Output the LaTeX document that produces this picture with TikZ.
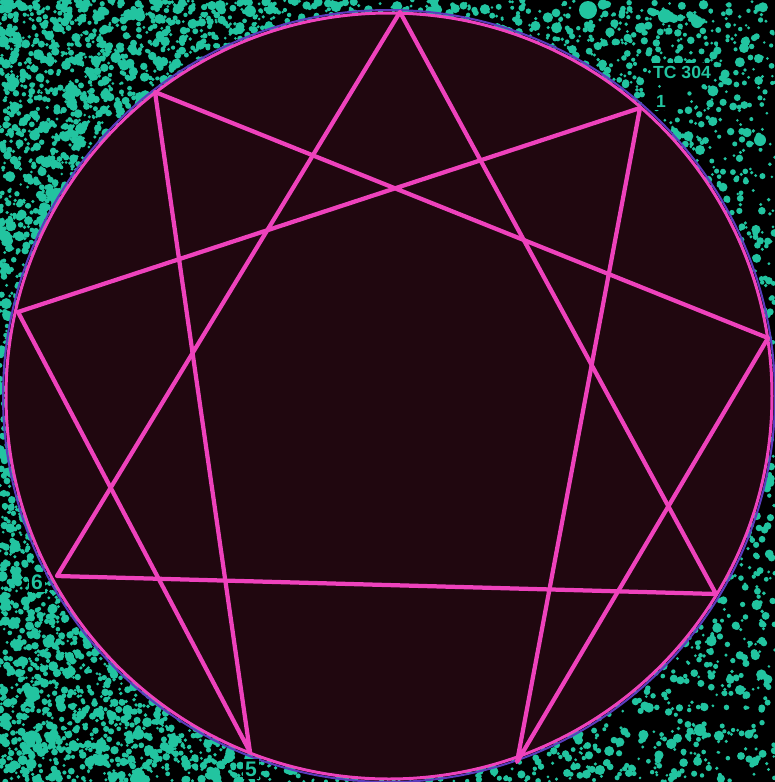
\documentclass[tikz,border=0pt]{standalone}
\usepackage{fontspec}
\setsansfont{Liberation Sans}
\definecolor{speckteal}{RGB}{34,196,160}
\definecolor{rayPink}{RGB}{238,66,188}
\definecolor{discDark}{RGB}{32,7,15}
\definecolor{rimBlue}{RGB}{90,60,190}

\begin{document}
\begin{tikzpicture}[x=0.02cm, y=-0.02cm,
    speck/.style={fill=speckteal},
    ray/.style={draw=rayPink, line width=0.085cm, line join=round},
    numlab/.style={text=speckteal, fill=black, font=\sffamily\bfseries, inner sep=1.5pt}]
  \useasboundingbox (0,0) rectangle (775,782);
  \fill[black] (0,0) rectangle (775,782);
  % speckled background, only outside the disc
  \begin{scope}
    \clip (0,0) rectangle (775,782);
    \pgfmathsetseed{304}
    \foreach \k in {1,...,6500}{
      \pgfmathsetmacro{\sx}{775*rnd}
      \pgfmathsetmacro{\sy}{782*rnd}
      \pgfmathsetmacro{\sd}{veclen(\sx-389,\sy-396)}
      \ifdim\sd pt>376pt
        \pgfmathsetmacro{\sr}{1.4+4.2*rnd*rnd}
        \fill[speck] (\sx,\sy) circle[radius=\sr];
      \fi
    }
    \foreach \k in {1,...,7500}{
      \pgfmathsetmacro{\sx}{775*(1-sqrt(rnd))}
      \pgfmathsetmacro{\sy}{782*rnd}
      \pgfmathsetmacro{\sd}{veclen(\sx-389,\sy-396)}
      \ifdim\sd pt>376pt
        \pgfmathsetmacro{\sr}{1.5+4.6*rnd*rnd}
        \fill[speck] (\sx,\sy) circle[radius=\sr];
      \fi
    }
    \foreach \bx/\by/\br in {588/10/9, 697/22/6, 665/16/7, 640/28/5, 744/48/5, 760/140/6,
        700/150/5, 725/250/4, 60/700/5, 100/760/6, 600/770/5, 700/730/6, 740/690/5}
      \fill[speck] (\bx,\by) circle[radius=\br];
  \end{scope}
  % disc
  \fill[discDark] (389,396) circle[radius=384];
  \draw[rimBlue, line width=0.04cm] (389,396) circle[radius=386];
  \draw[rayPink, line width=0.06cm] (389,396) circle[radius=383];
  % points of the figure
  \coordinate (p9) at (400,12);
  \coordinate (p1) at (640,108);
  \coordinate (p2) at (768,338);
  \coordinate (p3) at (716,594);
  \coordinate (p4) at (517,762);
  \coordinate (p5) at (250,752);
  \coordinate (p6) at (57,576);
  \coordinate (p7) at (18,312);
  \coordinate (p8) at (155,92);
  \draw[ray] (p9) -- (p3) -- (p6) -- cycle;
  \draw[ray] (p1) -- (p4) -- (p2) -- (p8) -- (p5) -- (p7) -- cycle;
  % labels
  \node[numlab] (code) at (682,72) {TC 304};
  \node[numlab] (n1) at (661,101) {1};
  \node[numlab, font=\sffamily\bfseries\large] (n6) at (37,582) {6};
  \node[numlab, font=\sffamily\bfseries\large] (n5) at (251,769) {5};
\end{tikzpicture}
\end{document}
